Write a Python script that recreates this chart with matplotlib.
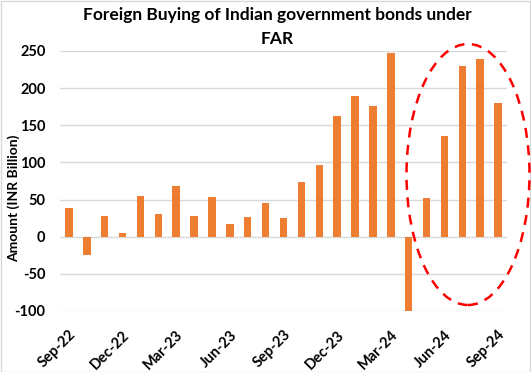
import matplotlib
matplotlib.use("Agg")
import matplotlib.pyplot as plt
from matplotlib.patches import Ellipse, Rectangle

months = ["Sep-22", "Oct-22", "Nov-22", "Dec-22", "Jan-23", "Feb-23", "Mar-23",
          "Apr-23", "May-23", "Jun-23", "Jul-23", "Aug-23", "Sep-23", "Oct-23",
          "Nov-23", "Dec-23", "Jan-24", "Feb-24", "Mar-24", "Apr-24", "May-24",
          "Jun-24", "Jul-24", "Aug-24", "Sep-24"]
amounts = [39, -24, 28, 5, 55, 31, 68.5, 28, 54, 17.5, 27, 46, 25.5, 74,
           97, 163, 189.5, 176, 247, -100, 52, 136, 230, 239, 180]
yticks = [-100, -50, 0, 50, 100, 150, 200, 250]

plt.rcParams['font.family'] = ['Lato', 'DejaVu Sans']

W, H = 531, 372
fig = plt.figure(figsize=(W / 100, H / 100), dpi=100)
ax = fig.add_axes([60 / W, 1 - 311 / H, 447 / W, 260 / H])

x = list(range(len(months)))
ax.bar(x, amounts, width=0.42, color="#ED7D31", zorder=3)
ax.set_xlim(-0.5, len(months) - 0.5)
ax.set_ylim(-100, 250)
ax.set_yticks(yticks)
ax.set_yticklabels([str(v) for v in yticks], fontsize=10.5, fontweight='bold')
ax.grid(axis='y', color="#D9D9D9", linewidth=1, zorder=0)
for s in ax.spines.values():
    s.set_visible(False)
ax.tick_params(axis='both', length=0)
ax.tick_params(axis='y', pad=10.5)

ax.set_xticks(x[::3])
ax.set_xticklabels(months[::3], rotation=45, ha='right', rotation_mode='anchor',
                   fontsize=10.5, fontweight='bold')
ax.tick_params(axis='x', pad=12)

ax.set_ylabel("Amount (INR Billion)", fontsize=10, fontweight='bold')
ax.yaxis.label.set_va('center')
ax.yaxis.set_label_coords((14 - 60) / 447, (311 - 198) / 260)

fig.text(277 / W, 1 - 15 / H, "Foreign Buying of Indian government bonds under",
         ha='center', va='center', fontsize=12.5, fontweight='bold')
fig.text(277 / W, 1 - 39 / H, "FAR", ha='center', va='center',
         fontsize=12.5, fontweight='bold')

ell = Ellipse((468 / W, 1 - 174.5 / H), 123 / W, 261 / H, transform=fig.transFigure,
              fill=False, edgecolor='#FF0000', linestyle=(0, (4, 3)), linewidth=1.8,
              clip_on=False, zorder=5)
fig.add_artist(ell)

border = Rectangle((0.5 / W, 0.5 / H), 1 - 1.5 / W, 1 - 1.5 / H, transform=fig.transFigure,
                   fill=False, edgecolor='#D9D9D9', linewidth=1)
fig.add_artist(border)

fig.savefig("out.png", dpi=100)
